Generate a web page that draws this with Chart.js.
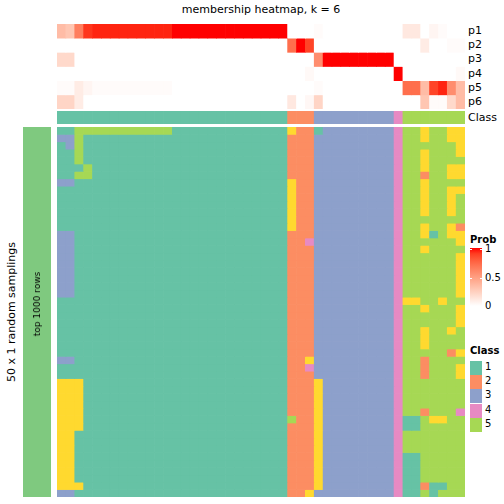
<!DOCTYPE html>
<html>
<head>
<meta charset="utf-8">
<script src="https://cdn.jsdelivr.net/npm/chart.js@4.4.1/dist/chart.umd.min.js"></script>
<style>
    body { margin: 0; background: #fff; font-family: "DejaVu Sans", sans-serif; }
    #page { position: relative; width: 504px; height: 504px; overflow: hidden; }
    .box { position: absolute; }
    .txt { position: absolute; white-space: nowrap; color: #000; }
    .rot { transform: translate(-50%, -50%) rotate(-90deg); }
</style>
</head>
<body>
<div id="page">
    <div class="txt" id="title" style="left:261px; top:3px; font-size:11px; transform:translateX(-50%);"></div>

    <div class="box" style="left:57px; top:24px; width:408px; height:85px;"><canvas id="probChart"></canvas></div>
    <div class="box" style="left:57px; top:111px; width:408px; height:13px;"><canvas id="classChart"></canvas></div>
    <div class="box" style="left:57px; top:127px; width:408px; height:370px;"><canvas id="mainChart"></canvas></div>
    <div class="box" style="left:23px; top:127px; width:28px; height:370px;"><canvas id="rowChart"></canvas></div>

    <div class="txt rot" id="rowTitle" style="left:11px; top:312px; font-size:11px;"></div>
    <div class="txt rot" id="rowAnno" style="left:37px; top:304px; font-size:9px;"></div>

    <div id="annoLabels"></div>
    <div id="legend"></div>
</div>

<script>
document.addEventListener("DOMContentLoaded", function () {
    const title = "membership heatmap, k = 6";
    const rowTitle = "50 x 1 random samplings";
    const rowAnnoLabel = "top 1000 rows";
    const annoNames = ["p1", "p2", "p3", "p4", "p5", "p6"];

    // probability of each sample (column) belonging to class 1..6
    const p1 = [0.35, 0.3, 0.65, 0.92, 0.96, 0.96, 0.96, 0.96, 0.96, 0.96, 0.96, 0.96, 0.96, 1, 1, 1, 1, 1, 1, 1, 1, 1, 1, 1, 1, 1,
        0, 0, 0, 0.02, 0, 0, 0, 0, 0, 0, 0, 0, 0, 0.12, 0.12, 0, 0.05, 0.02, 0, 0];
    const p2 = [0, 0, 0, 0, 0, 0, 0, 0, 0, 0, 0, 0, 0, 0, 0, 0, 0, 0, 0, 0, 0, 0, 0, 0, 0, 0,
        0.72, 1, 0.88, 0, 0, 0, 0, 0, 0, 0, 0, 0, 0, 0, 0, 0.1, 0, 0, 0.02, 0.02];
    const p3 = [0.2, 0.2, 0, 0, 0, 0, 0, 0, 0, 0, 0, 0, 0, 0, 0, 0, 0, 0, 0, 0, 0, 0, 0, 0, 0, 0,
        0, 0, 0, 0.58, 1, 1, 1, 1, 1, 1, 1, 1, 0, 0, 0, 0, 0, 0, 0, 0];
    const p4 = [0, 0, 0, 0, 0, 0, 0, 0, 0, 0, 0, 0, 0, 0, 0, 0, 0, 0, 0, 0, 0, 0, 0, 0, 0, 0,
        0, 0, 0.03, 0, 0, 0, 0, 0, 0, 0, 0, 0, 1, 0, 0, 0, 0, 0, 0, 0.03];
    const p5 = [0.02, 0.02, 0.1, 0.05, 0.02, 0.02, 0.02, 0.02, 0.02, 0.02, 0.02, 0.02, 0.02, 0, 0, 0, 0, 0, 0, 0, 0, 0, 0, 0, 0, 0,
        0, 0, 0, 0.02, 0, 0, 0, 0, 0, 0, 0, 0, 0, 0.72, 0.72, 0.35, 0.88, 0.96, 0.58, 0.35];
    const p6 = [0.22, 0.22, 0.1, 0, 0, 0, 0, 0, 0, 0, 0, 0, 0, 0, 0, 0, 0, 0, 0, 0, 0, 0, 0, 0, 0, 0,
        0.12, 0, 0.04, 0.22, 0, 0, 0, 0, 0, 0, 0, 0, 0, 0, 0, 0.3, 0.02, 0.02, 0.2, 0.35];

    // consensus class of each column
    const classes = "11111111111111111111111111 222 333333333 4 5555555";

    // class found in each random sampling (rows) for each column
    const membership = [
        "11555555555551111111111111 622 133333333 4 5565566",
        "33511111111111111111111111 222 333333333 4 5565566",
        "13511111111111111111111111 222 333333333 4 5555556",
        "11511111111111111111111111 222 333333333 4 5565556",
        "11511111111111111111111111 222 333333333 4 5565555",
        "11151111111111111111111111 222 333333333 4 5565566",
        "11551111111111111111111111 222 333333333 4 5525566",
        "33111111111111111111111111 622 333333333 4 5565555",
        "11111111111111111111111111 622 333333333 4 5565566",
        "11111111111111111111111111 622 333333333 4 5565565",
        "11111111111111111111111111 622 333333333 4 5565565",
        "11111111111111111111111111 622 333333333 4 5565565",
        "11111111111111111111111111 622 333333333 4 5555555",
        "11111111111111111111111111 622 333333333 4 5565562",
        "33111111111111111111111111 222 333333333 4 5561566",
        "33111111111111111111111111 224 333333333 4 5555556",
        "33111111111111111111111111 222 333333333 4 5565555",
        "33111111111111111111111111 222 333333333 4 5555556",
        "33111111111111111111111111 222 333333333 4 5555556",
        "33111111111111111111111111 222 333333333 4 5555556",
        "33111111111111111111111111 222 333333333 4 5555556",
        "33111111111111111111111111 222 333333333 4 5555556",
        "33111111111111111111111111 222 333333333 4 5555556",
        "11111111111111111111111111 222 333333333 4 6655655",
        "11111111111111111111111111 222 333333333 4 5565556",
        "11111111111111111111111111 222 333333333 4 5555556",
        "11111111111111111111111111 222 333333333 4 5555556",
        "11111111111111111111111111 222 333333333 4 5565565",
        "11111111111111111111111111 222 333333333 4 5565555",
        "11111111111111111111111111 222 333333333 4 5565555",
        "11111111111111111111111111 222 333333333 4 5555526",
        "33111111111111111111111111 226 333333333 4 5525555",
        "11111111111111111111111111 224 333333333 4 5525556",
        "11111111111111111111111111 222 333333333 4 5525556",
        "66611111111111111111111111 222 633333333 4 5555555",
        "66611111111111111111111111 222 633333333 4 5555555",
        "66611111111111111111111111 222 633333333 4 5555555",
        "66611111111111111111111111 222 633333333 4 5555555",
        "66611111111111111111111111 222 633333333 4 5525554",
        "66611111111111111111111111 522 633333333 4 1156655",
        "66611111111111111111111111 222 633333333 4 1155555",
        "66111111111111111111111111 222 633333333 4 5555555",
        "66111111111111111111111111 222 633333333 4 5555555",
        "66111111111111111111111111 222 633333333 4 5555555",
        "66111111111111111111111111 222 633333333 4 1155555",
        "66111111111111111111111111 222 633333333 4 1155555",
        "66111111111111111111111111 222 633333333 4 1155555",
        "66111111111111111111111111 222 633333333 4 1155555",
        "66611111111111111111111111 222 633333333 4 1121155",
        "33111111111111111111111111 226 333333333 4 1151555"
    ];

    const classColors = { 1: "#66C2A5", 2: "#FC8D62", 3: "#8DA0CB", 4: "#E78AC3", 5: "#A6D854", 6: "#FFD92F" };
    const rowAnnoColor = "#7FC97F";
    const legendClasses = ["1", "2", "3", "4", "5"];
    const probTicks = ["1", "0.5", "0"];

    const parseRow = s => s.replace(/ /g, "").split("").map(Number);
    const samples = parseRow(classes).map((c, i) => "s" + (i + 1));

    // white -> red, interpolated in LAB like colorRamp2
    const toLin = c => { c /= 255; return c <= 0.04045 ? c / 12.92 : Math.pow((c + 0.055) / 1.055, 2.4); };
    const toSrgb = c => { c = c <= 0.0031308 ? 12.92 * c : 1.055 * Math.pow(c, 1 / 2.4) - 0.055; return Math.round(Math.max(0, Math.min(1, c)) * 255); };
    const f = t => t > 0.008856 ? Math.cbrt(t) : 7.787 * t + 16 / 116;
    const fi = t => t > 0.206893 ? t * t * t : (t - 16 / 116) / 7.787;
    const rgbToLab = ([r, g, b]) => {
        r = toLin(r); g = toLin(g); b = toLin(b);
        const x = (0.4124 * r + 0.3576 * g + 0.1805 * b) / 0.95047;
        const y = 0.2126 * r + 0.7152 * g + 0.0722 * b;
        const z = (0.0193 * r + 0.1192 * g + 0.9505 * b) / 1.08883;
        return [116 * f(y) - 16, 500 * (f(x) - f(y)), 200 * (f(y) - f(z))];
    };
    const labToRgb = ([L, a, bb]) => {
        const fy = (L + 16) / 116, fx = fy + a / 500, fz = fy - bb / 200;
        const x = fi(fx) * 0.95047, y = fi(fy), z = fi(fz) * 1.08883;
        return [
            toSrgb(3.2406 * x - 1.5372 * y - 0.4986 * z),
            toSrgb(-0.9689 * x + 1.8758 * y + 0.0415 * z),
            toSrgb(0.0557 * x - 0.2040 * y + 1.0570 * z)
        ];
    };
    const labWhite = rgbToLab([255, 255, 255]);
    const labRed = rgbToLab([255, 0, 0]);
    const probColor = p => {
        const lab = labWhite.map((v, i) => v + (labRed[i] - v) * p);
        const [r, g, b] = labToRgb(lab);
        return `rgb(${r},${g},${b})`;
    };

    const heatChart = (canvasId, labels, rows, colorOf) => {
        const datasets = rows.map((row, r) => ({
            data: row.map(() => [r, r + 1]),
            backgroundColor: row.map(colorOf),
            borderWidth: 0,
            grouped: false,
            barPercentage: 1,
            categoryPercentage: 1
        }));
        return new Chart(document.getElementById(canvasId), {
            type: 'bar',
            data: { labels, datasets },
            options: {
                responsive: true,
                maintainAspectRatio: false,
                animation: false,
                layout: { padding: 0 },
                plugins: { legend: { display: false }, tooltip: { enabled: false } },
                scales: {
                    x: { display: false },
                    y: { display: false, min: 0, max: rows.length, reverse: true }
                }
            }
        });
    };

    heatChart("probChart", samples, [p1, p2, p3, p4, p5, p6], probColor);
    heatChart("classChart", samples, [parseRow(classes)], c => classColors[c]);
    heatChart("mainChart", samples, membership.map(parseRow), c => classColors[c]);
    heatChart("rowChart", [rowAnnoLabel], [[1]], () => rowAnnoColor);

    // texts
    document.getElementById("title").textContent = title;
    document.getElementById("rowTitle").textContent = rowTitle;
    document.getElementById("rowAnno").textContent = rowAnnoLabel;

    const annoLabels = document.getElementById("annoLabels");
    const annoRowH = 85 / 6;
    annoNames.concat(["Class"]).forEach((name, i) => {
        const el = document.createElement("div");
        el.className = "txt";
        el.style.fontSize = "11px";
        el.style.left = "468px";
        const cy = i < 6 ? 24 + annoRowH * (i + 0.5) : 117.5;
        el.style.top = (cy - 7) + "px";
        el.textContent = name;
        annoLabels.appendChild(el);
    });

    // legends
    const legend = document.getElementById("legend");
    const addText = (text, x, y, size, bold) => {
        const el = document.createElement("div");
        el.className = "txt";
        el.style.left = x + "px";
        el.style.top = y + "px";
        el.style.fontSize = size + "px";
        if (bold) el.style.fontWeight = "bold";
        el.textContent = text;
        legend.appendChild(el);
        return el;
    };
    addText("Prob", 470, 234, 10, true);
    const bar = document.createElement("div");
    const stops = [];
    for (let i = 0; i <= 10; i++) stops.push(probColor(1 - i / 10) + " " + (i * 10) + "%");
    bar.style.cssText = `position:absolute; left:470px; top:248px; width:12px; height:58px; background:linear-gradient(${stops.join(",")});`;
    legend.appendChild(bar);
    probTicks.forEach((t, i) => {
        addText(t, 485, 243 + i * 28.5, 10, false);
        if (i < 2) {
            const tick = document.createElement("div");
            tick.style.cssText = `position:absolute; left:470px; top:${249 + i * 28.5}px; width:12px; height:1px;` +
                "background:linear-gradient(90deg,#fff 0,#fff 2px,transparent 2px,transparent 10px,#fff 10px);";
            legend.appendChild(tick);
        }
    });
    addText("Class", 470, 345, 10, true);
    legendClasses.forEach((c, i) => {
        const sw = document.createElement("div");
        sw.style.cssText = `position:absolute; left:470px; top:${361 + i * 14.2}px; width:12px; height:14px; background:${classColors[c]};`;
        legend.appendChild(sw);
        addText(c, 485, 361 + i * 14.2, 10, false);
    });
});
</script>
</body>
</html>
